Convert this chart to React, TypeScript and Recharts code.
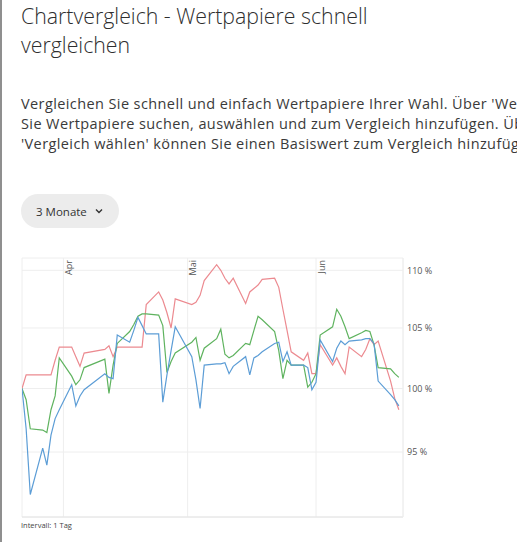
import { LineChart, Line, XAxis, YAxis, CartesianGrid } from 'recharts';

// Handelstage (Xetra 2023, ohne Karfreitag, Ostermontag, 1. Mai)
const handelstage = [
  '2023-03-22', '2023-03-23', '2023-03-24', '2023-03-27', '2023-03-28', '2023-03-29', '2023-03-30', '2023-03-31',
  '2023-04-03', '2023-04-04', '2023-04-05', '2023-04-06', '2023-04-11', '2023-04-12', '2023-04-13', '2023-04-14',
  '2023-04-17', '2023-04-18', '2023-04-19', '2023-04-20', '2023-04-21', '2023-04-24', '2023-04-25', '2023-04-26',
  '2023-04-27', '2023-04-28', '2023-05-02', '2023-05-03', '2023-05-04', '2023-05-05', '2023-05-08', '2023-05-09',
  '2023-05-10', '2023-05-11', '2023-05-12', '2023-05-15', '2023-05-16', '2023-05-17', '2023-05-18', '2023-05-19',
  '2023-05-22', '2023-05-23', '2023-05-24', '2023-05-25', '2023-05-26', '2023-05-29', '2023-05-30', '2023-05-31',
  '2023-06-01', '2023-06-02', '2023-06-05', '2023-06-06', '2023-06-07', '2023-06-08', '2023-06-09', '2023-06-12',
  '2023-06-13', '2023-06-14', '2023-06-15', '2023-06-16', '2023-06-19', '2023-06-20', '2023-06-21',
];

// Wertentwicklung in % (Start = 100)
const wertRot = [
  100, 101.1, 101.1, 101.1, 101.1, 101.1, 102.3, 103.4,
  103.4, 102.6, 101.8, 102.9, 103.2, 103.5, 102.6, 103.4,
  103.4, 103.4, 103.4, 103.4, 107.0, 108.1, 107.4, 106.3,
  105.0, 107.5, 107.0, 107.2, 107.8, 109.1, 110.5, 110.0,
  109.3, 108.8, 109.3, 107.1, 108.1, 108.4, 108.7, 109.2,
  109.3, 108.5, 106.6, 104.8, 103.0, 102.3, 102.9, 101.2,
  101.2, 103.6, 101.9, 102.5, 101.8, 101.2, 103.4, 102.6,
  103.2, 104.1, 103.6, 103.9, 100.6, 99.2, 98.3,
];

const wertGruen = [
  100, 99.1, 96.8, 96.7, 96.5, 98.3, 99.4, 102.5,
  101.0, 100.3, 100.7, 101.7, 102.4, 99.6, 101.9, 103.7,
  104.7, 105.3, 106.0, 106.2, 106.2, 106.1, 105.2, 101.3,
  102.2, 102.9, 103.8, 104.2, 102.3, 103.3, 104.1, 104.9,
  102.8, 102.5, 102.7, 103.7, 103.6, 104.8, 106.0, 105.7,
  104.7, 103.1, 100.8, 102.3, 101.9, 101.9, 100.1, 100.5,
  101.2, 104.4, 105.1, 106.6, 106.0, 105.1, 104.1, 104.6,
  104.8, 104.7, 103.6, 101.7, 101.6, 101.2, 100.9,
];

const wertBlau = [
  100, 96.8, 91.8, 95.3, 94.0, 96.3, 97.6, 98.3,
  100.3, 98.6, 99.4, 99.9, 101.2, 100.9, 100.8, 104.4,
  103.8, 104.8, 105.9, 105.2, 104.5, 104.5, 98.9, 101.1,
  103.1, 105.1, 102.6, 100.7, 98.4, 101.9, 102.0, 102.0,
  102.1, 101.2, 101.8, 102.6, 101.1, 102.5, 102.7, 103.0,
  103.7, 103.8, 102.2, 103.0, 101.9, 101.9, 101.7, 99.9,
  100.5, 104.0, 102.2, 103.3, 103.9, 103.6, 103.9, 104.0,
  104.1, 104.1, 103.7, 100.6, 99.5, 99.1, 98.6,
];

const zeitraum = ['2023-03-22', '2023-06-22'];
const monatsStart = ['2023-04-01', '2023-05-01', '2023-06-01'];
const monatsNamen = ['Apr', 'Mai', 'Jun'];
const prozentTicks = [95, 100, 105, 110];
const prozentBereich = [90.15, 111.1];

const TAG_MS = 86400000;
const tagNr = (d: string) => Math.round((Date.parse(d) - Date.parse(zeitraum[0])) / TAG_MS);

const daten = handelstage.map((d, i) => ({
  tag: tagNr(d),
  rot: wertRot[i],
  gruen: wertGruen[i],
  blau: wertBlau[i],
}));
const monatsTicks = monatsStart.map(tagNr);
const tagDomain = zeitraum.map(tagNr);

const FONT = '"Open Sans", sans-serif';
const PLOT_TOP = 18;

const MonatTick = (props: any) => {
  const { x, payload } = props;
  const name = monatsNamen[monatsTicks.indexOf(payload.value)];
  const tx = x + 8.5;
  const ty = PLOT_TOP + 2;
  return (
    <text x={tx} y={ty} transform={`rotate(-90 ${tx} ${ty})`} textAnchor="end" fontSize={9} fill="#555" fontFamily={FONT}>
      {name}
    </text>
  );
};

export default function App() {
  return (
    <div style={{ position: 'relative', width: 517, height: 542, overflow: 'hidden', background: '#fff', borderLeft: '2px solid #8f8f8f', boxSizing: 'border-box', fontFamily: FONT, color: '#333' }}>
      <style>{'body{margin:0}'}</style>

      <div style={{ position: 'absolute', left: 19, top: 1, fontSize: 21.3, fontWeight: 300, lineHeight: '29px', whiteSpace: 'nowrap', color: '#2e2e2e' }}>
        Chartvergleich - Wertpapiere schnell<br />vergleichen
      </div>

      <div style={{ position: 'absolute', left: 19, top: 94, fontSize: 14.5, letterSpacing: 0.4, lineHeight: '20px', whiteSpace: 'nowrap', color: '#3a3a3a' }}>
        <div>Vergleichen Sie schnell und einfach Wertpapiere Ihrer Wahl. Über 'Wertpapier hinzufügen' können</div>
        <div>Sie Wertpapiere suchen, auswählen und zum Vergleich hinzufügen. Über</div>
        <div>'Vergleich wählen' können Sie einen Basiswert zum Vergleich hinzufügen.</div>
      </div>

      {/* Zeitraum-Auswahl */}
      <div style={{ position: 'absolute', left: 19, top: 194, width: 98, height: 34, borderRadius: 17, background: '#ececec', display: 'flex', alignItems: 'center' }}>
        <span style={{ marginLeft: 15, fontSize: 11.5, fontWeight: 500, color: '#333' }}>3 Monate</span>
        <svg width={8} height={6} style={{ marginLeft: 8 }}>
          <path d="M1 1.5 L4 4.5 L7 1.5" stroke="#333" strokeWidth={1.4} fill="none" />
        </svg>
      </div>

      <div style={{ position: 'absolute', left: -2, top: 240 }}>
        <LineChart width={460} height={290} data={daten} margin={{ top: PLOT_TOP - 1, right: 0, bottom: 12, left: 22 }}>
          <CartesianGrid xAxisId="top" stroke="#eeeeee" />
          <XAxis xAxisId="top" orientation="top" type="number" dataKey="tag" domain={tagDomain} ticks={monatsTicks}
            height={1} axisLine={false} tickLine={false} tick={<MonatTick />} interval={0} allowDataOverflow />
          <XAxis xAxisId="unten" orientation="bottom" type="number" dataKey="tag" domain={tagDomain}
            height={1} tick={false} tickLine={false} axisLine={{ stroke: '#e4e4e4' }} allowDataOverflow />
          <YAxis orientation="right" scale="log" domain={prozentBereich} ticks={prozentTicks} width={57}
            allowDataOverflow axisLine={{ stroke: '#eeeeee' }} tickLine={false} tickSize={4} tickMargin={0}
            tick={{ fontSize: 9, fill: '#555', fontFamily: FONT }} tickFormatter={(v: number) => `${v} %`} interval={0} />
          <Line xAxisId="top" type="linear" dataKey="rot" stroke="#ec8a90" strokeWidth={1.2} dot={false} isAnimationActive={false} />
          <Line xAxisId="top" type="linear" dataKey="gruen" stroke="#5fb35f" strokeWidth={1.2} dot={false} isAnimationActive={false} />
          <Line xAxisId="top" type="linear" dataKey="blau" stroke="#5c9dd6" strokeWidth={1.2} dot={false} isAnimationActive={false} />
        </LineChart>
      </div>

      <div style={{ position: 'absolute', left: 19, top: 520, fontSize: 7.5, color: '#444', whiteSpace: 'nowrap' }}>
        Intervall: 1 Tag
      </div>
    </div>
  );
}
